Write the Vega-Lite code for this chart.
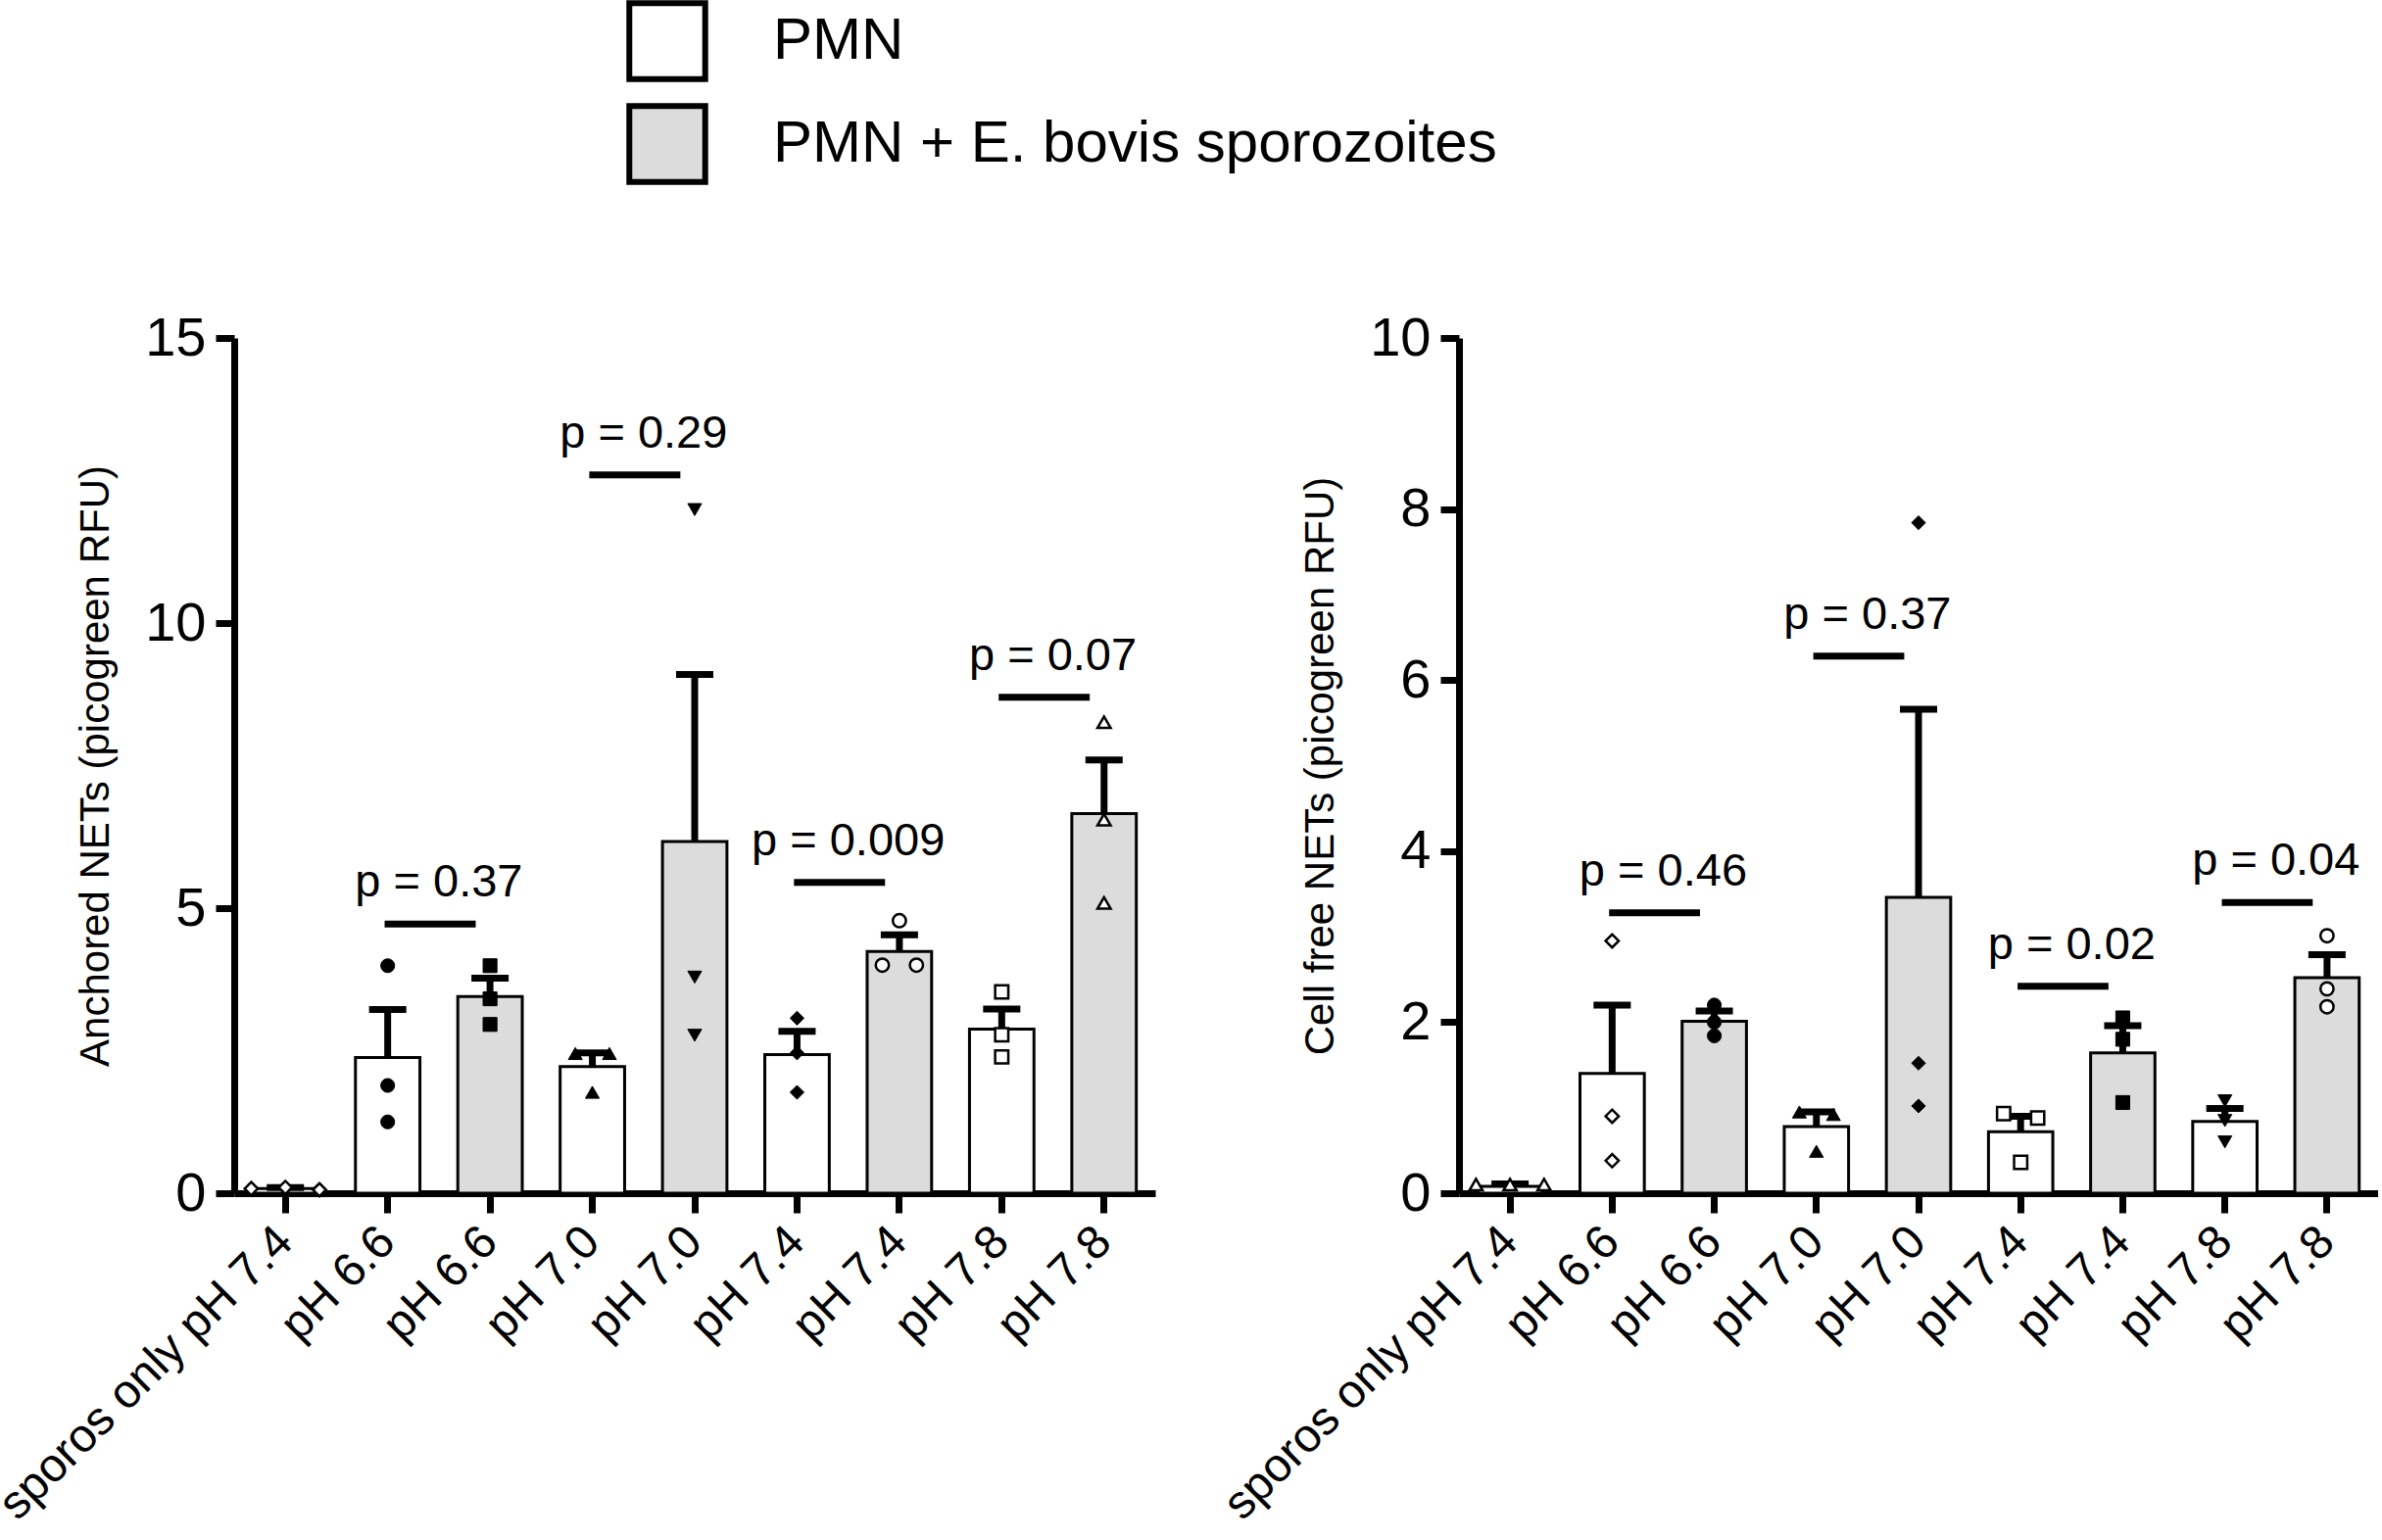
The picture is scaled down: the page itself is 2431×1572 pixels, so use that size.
{
  "$schema": "https://vega.github.io/schema/vega-lite/v6.json",
  "background": "white",
  "padding": {"left": -10, "top": 0, "right": 0, "bottom": 0},
  "spacing": 61,
  "datasets": {
    "bars": [
      {"panel": "A", "cat": 1, "group": "sporozoites only", "mean": 0.08, "hi": 0.1},
      {"panel": "A", "cat": 2, "group": "PMN", "mean": 2.38, "hi": 3.22},
      {"panel": "A", "cat": 3, "group": "PMN + E. bovis sporozoites", "mean": 3.45, "hi": 3.77},
      {"panel": "A", "cat": 4, "group": "PMN", "mean": 2.22, "hi": 2.46},
      {"panel": "A", "cat": 5, "group": "PMN + E. bovis sporozoites", "mean": 6.17, "hi": 9.1},
      {"panel": "A", "cat": 6, "group": "PMN", "mean": 2.43, "hi": 2.84},
      {"panel": "A", "cat": 7, "group": "PMN + E. bovis sporozoites", "mean": 4.24, "hi": 4.53},
      {"panel": "A", "cat": 8, "group": "PMN", "mean": 2.88, "hi": 3.23},
      {"panel": "A", "cat": 9, "group": "PMN + E. bovis sporozoites", "mean": 6.66, "hi": 7.6},
      {"panel": "B", "cat": 1, "group": "sporozoites only", "mean": 0.08, "hi": 0.11},
      {"panel": "B", "cat": 2, "group": "PMN", "mean": 1.4, "hi": 2.2},
      {"panel": "B", "cat": 3, "group": "PMN + E. bovis sporozoites", "mean": 2.01, "hi": 2.13},
      {"panel": "B", "cat": 4, "group": "PMN", "mean": 0.78, "hi": 0.95},
      {"panel": "B", "cat": 5, "group": "PMN + E. bovis sporozoites", "mean": 3.46, "hi": 5.66},
      {"panel": "B", "cat": 6, "group": "PMN", "mean": 0.72, "hi": 0.9},
      {"panel": "B", "cat": 7, "group": "PMN + E. bovis sporozoites", "mean": 1.64, "hi": 1.96},
      {"panel": "B", "cat": 8, "group": "PMN", "mean": 0.84, "hi": 0.99},
      {"panel": "B", "cat": 9, "group": "PMN + E. bovis sporozoites", "mean": 2.52, "hi": 2.79}
    ],
    "pts": [
      {"panel": "A", "cat": 1, "spread": "L", "value": 0.08},
      {"panel": "A", "cat": 1, "spread": "c", "value": 0.1},
      {"panel": "A", "cat": 1, "spread": "R", "value": 0.06},
      {"panel": "A", "cat": 2, "spread": "c", "value": 3.99},
      {"panel": "A", "cat": 2, "spread": "c", "value": 1.89},
      {"panel": "A", "cat": 2, "spread": "c", "value": 1.25},
      {"panel": "A", "cat": 3, "spread": "c", "value": 3.99},
      {"panel": "A", "cat": 3, "spread": "c", "value": 3.41},
      {"panel": "A", "cat": 3, "spread": "c", "value": 2.96},
      {"panel": "A", "cat": 4, "spread": "l", "value": 2.45},
      {"panel": "A", "cat": 4, "spread": "r", "value": 2.45},
      {"panel": "A", "cat": 4, "spread": "c", "value": 1.77},
      {"panel": "A", "cat": 5, "spread": "c", "value": 11.99},
      {"panel": "A", "cat": 5, "spread": "c", "value": 3.79},
      {"panel": "A", "cat": 5, "spread": "c", "value": 2.77},
      {"panel": "A", "cat": 6, "spread": "c", "value": 3.07},
      {"panel": "A", "cat": 6, "spread": "c", "value": 2.46},
      {"panel": "A", "cat": 6, "spread": "c", "value": 1.77},
      {"panel": "A", "cat": 7, "spread": "c", "value": 4.78},
      {"panel": "A", "cat": 7, "spread": "l", "value": 4.0},
      {"panel": "A", "cat": 7, "spread": "r", "value": 4.0},
      {"panel": "A", "cat": 8, "spread": "c", "value": 3.53},
      {"panel": "A", "cat": 8, "spread": "c", "value": 2.78},
      {"panel": "A", "cat": 8, "spread": "c", "value": 2.39},
      {"panel": "A", "cat": 9, "spread": "c", "value": 8.26},
      {"panel": "A", "cat": 9, "spread": "c", "value": 6.55},
      {"panel": "A", "cat": 9, "spread": "c", "value": 5.09},
      {"panel": "B", "cat": 1, "spread": "L", "value": 0.1},
      {"panel": "B", "cat": 1, "spread": "c", "value": 0.1},
      {"panel": "B", "cat": 1, "spread": "R", "value": 0.1},
      {"panel": "B", "cat": 2, "spread": "c", "value": 2.95},
      {"panel": "B", "cat": 2, "spread": "c", "value": 0.9},
      {"panel": "B", "cat": 2, "spread": "c", "value": 0.38},
      {"panel": "B", "cat": 3, "spread": "c", "value": 2.2},
      {"panel": "B", "cat": 3, "spread": "c", "value": 2.0},
      {"panel": "B", "cat": 3, "spread": "c", "value": 1.84},
      {"panel": "B", "cat": 4, "spread": "l", "value": 0.95},
      {"panel": "B", "cat": 4, "spread": "r", "value": 0.92},
      {"panel": "B", "cat": 4, "spread": "c", "value": 0.49},
      {"panel": "B", "cat": 5, "spread": "c", "value": 7.84},
      {"panel": "B", "cat": 5, "spread": "c", "value": 1.52},
      {"panel": "B", "cat": 5, "spread": "c", "value": 1.02},
      {"panel": "B", "cat": 6, "spread": "l", "value": 0.93},
      {"panel": "B", "cat": 6, "spread": "r", "value": 0.88},
      {"panel": "B", "cat": 6, "spread": "c", "value": 0.36},
      {"panel": "B", "cat": 7, "spread": "c", "value": 2.05},
      {"panel": "B", "cat": 7, "spread": "c", "value": 1.8},
      {"panel": "B", "cat": 7, "spread": "c", "value": 1.06},
      {"panel": "B", "cat": 8, "spread": "c", "value": 1.08},
      {"panel": "B", "cat": 8, "spread": "c", "value": 0.85},
      {"panel": "B", "cat": 8, "spread": "c", "value": 0.6},
      {"panel": "B", "cat": 9, "spread": "c", "value": 3.01},
      {"panel": "B", "cat": 9, "spread": "c", "value": 2.39},
      {"panel": "B", "cat": 9, "spread": "c", "value": 2.18}
    ],
    "pvals": [
      {"panel": "A", "from": 2, "to": 3, "y": 4.72, "label": "p = 0.37"},
      {"panel": "A", "from": 4, "to": 5, "y": 12.6, "label": "p = 0.29"},
      {"panel": "A", "from": 6, "to": 7, "y": 5.45, "label": "p = 0.009"},
      {"panel": "A", "from": 8, "to": 9, "y": 8.7, "label": "p = 0.07"},
      {"panel": "B", "from": 2, "to": 3, "y": 3.28, "label": "p = 0.46"},
      {"panel": "B", "from": 4, "to": 5, "y": 6.28, "label": "p = 0.37"},
      {"panel": "B", "from": 6, "to": 7, "y": 2.42, "label": "p = 0.02"},
      {"panel": "B", "from": 8, "to": 9, "y": 3.4, "label": "p = 0.04"}
    ]
  },
  "config": {
    "font": "Liberation Sans",
    "view": {"stroke": null},
    "axis": {
      "domainColor": "black", "domainWidth": 7, "tickColor": "black", "tickWidth": 7,
      "labelColor": "black", "titleColor": "black", "grid": false, "labelLimit": 0,
      "labelFont": "Liberation Sans", "titleFont": "Liberation Sans", "titleFontWeight": "normal"
    },
    "axisY": {"labelFontSize": 56, "labelPadding": 10, "tickSize": 19, "titleFontSize": 42, "titlePadding": 28, "format": "d"},
    "axisX": {"labelFontSize": 48, "labelAngle": -45, "labelAlign": "right", "labelBaseline": "middle", "tickSize": 20, "labelPadding": 22}
  },
  "resolve": {"scale": {"shape": "independent"}},
  "hconcat": [
    {
      "width": 940,
      "height": 873,
      "resolve": {"scale": {"xOffset": "independent"}},
      "encoding": {
        "x": {
          "field": "cat", "type": "ordinal", "title": null,
          "scale": {"type": "band", "paddingInner": 0, "paddingOuter": 0},
          "axis": {"labelExpr": "['sporos only pH 7.4','pH 6.6','pH 6.6','pH 7.0','pH 7.0','pH 7.4','pH 7.4','pH 7.8','pH 7.8'][datum.value - 1]"}
        }
      },
      "layer": [
        {
          "data": {"name": "bars"},
          "transform": [{"filter": "datum.panel == 'A'"}],
          "mark": {"type": "bar", "stroke": "black", "strokeWidth": 3, "width": {"band": 0.63}},
          "encoding": {
            "y": {"field": "mean", "type": "quantitative", "title": "Anchored NETs (picogreen RFU)",
                  "scale": {"domain": [0, 15], "nice": false}, "axis": {"values": [0, 5, 10, 15]}},
            "fill": {
              "field": "group", "type": "nominal",
              "scale": {"domain": ["PMN", "PMN + E. bovis sporozoites", "sporozoites only"], "range": ["white", "#dcdcdc", "white"]},
              "legend": {
                "title": null, "orient": "none", "legendX": 400, "legendY": -345, "direction": "vertical",
                "values": ["PMN", "PMN + E. bovis sporozoites"],
                "symbolType": "square", "symbolSize": 6000, "symbolStrokeColor": "black", "symbolStrokeWidth": 6,
                "labelFont": "Liberation Sans", "labelFontSize": 60, "labelColor": "black", "labelOffset": 66, "labelLimit": 0,
                "rowPadding": 3, "padding": 0
              }
            }
          }
        },
        {
          "data": {"name": "bars"},
          "transform": [{"filter": "datum.panel == 'A'"}],
          "mark": {"type": "rule", "color": "black", "strokeWidth": 7},
          "encoding": {
            "y": {"field": "mean", "type": "quantitative", "title": "Anchored NETs (picogreen RFU)"},
            "y2": {"field": "hi"}
          }
        },
        {
          "data": {"name": "bars"},
          "transform": [{"filter": "datum.panel == 'A'"}],
          "mark": {"type": "tick", "color": "black", "opacity": 1, "thickness": 7, "size": 38},
          "encoding": {
            "y": {"field": "hi", "type": "quantitative", "title": "Anchored NETs (picogreen RFU)"}
          }
        },
        {
          "data": {"name": "pts"},
          "transform": [{"filter": "datum.panel == 'A' && indexof([2, 3, 4, 5, 6], datum.cat) >= 0"}],
          "mark": {"type": "point", "filled": true, "fill": "black", "stroke": "black", "strokeWidth": 1, "size": 200, "opacity": 1},
          "encoding": {
            "y": {"field": "value", "type": "quantitative", "title": "Anchored NETs (picogreen RFU)"},
            "xOffset": {"field": "spread", "type": "nominal", "scale": {"domain": ["L", "l", "c", "r", "R"], "paddingInner": 0, "paddingOuter": 1.5}},
            "shape": {"field": "cat", "type": "nominal", "legend": null,
                      "scale": {"domain": [1, 2, 3, 4, 5, 6, 7, 8, 9], "range": ["diamond", "circle", "square", "triangle-up", "triangle-down", "diamond", "circle", "square", "triangle-up"]}}
          }
        },
        {
          "data": {"name": "pts"},
          "transform": [{"filter": "datum.panel == 'A' && indexof([1, 7, 8, 9], datum.cat) >= 0"}],
          "mark": {"type": "point", "filled": true, "fill": "white", "stroke": "black", "strokeWidth": 2.5, "size": 180, "opacity": 1},
          "encoding": {
            "y": {"field": "value", "type": "quantitative", "title": "Anchored NETs (picogreen RFU)"},
            "xOffset": {"field": "spread", "type": "nominal", "scale": {"domain": ["L", "l", "c", "r", "R"], "paddingInner": 0, "paddingOuter": 1.5}},
            "shape": {"field": "cat", "type": "nominal", "legend": null,
                      "scale": {"domain": [1, 2, 3, 4, 5, 6, 7, 8, 9], "range": ["diamond", "circle", "square", "triangle-up", "triangle-down", "diamond", "circle", "square", "triangle-up"]}}
          }
        },
        {
          "data": {"name": "pvals"},
          "transform": [{"filter": "datum.panel == 'A'"}],
          "mark": {"type": "rule", "color": "black", "strokeWidth": 7},
          "encoding": {
            "x": {"field": "from", "type": "ordinal", "title": null, "bandPosition": 0.47},
            "x2": {"field": "to", "bandPosition": 0.36},
            "y": {"field": "y", "type": "quantitative", "title": "Anchored NETs (picogreen RFU)"}
          }
        },
        {
          "data": {"name": "pvals"},
          "transform": [{"filter": "datum.panel == 'A'"}],
          "mark": {"type": "text", "color": "black", "font": "Liberation Sans", "fontSize": 47, "dy": -28, "baseline": "alphabetic", "align": "center"},
          "encoding": {
            "x": {"field": "from", "type": "ordinal", "title": null, "bandPosition": 1},
            "y": {"field": "y", "type": "quantitative", "title": "Anchored NETs (picogreen RFU)"},
            "text": {"field": "label"}
          }
        }
      ]
    },
    {
      "width": 938,
      "height": 873,
      "resolve": {"scale": {"xOffset": "independent"}},
      "encoding": {
        "x": {
          "field": "cat", "type": "ordinal", "title": null,
          "scale": {"type": "band", "paddingInner": 0, "paddingOuter": 0},
          "axis": {"labelExpr": "['sporos only pH 7.4','pH 6.6','pH 6.6','pH 7.0','pH 7.0','pH 7.4','pH 7.4','pH 7.8','pH 7.8'][datum.value - 1]"}
        }
      },
      "layer": [
        {
          "data": {"name": "bars"},
          "transform": [{"filter": "datum.panel == 'B'"}],
          "mark": {"type": "bar", "stroke": "black", "strokeWidth": 3, "width": {"band": 0.63}},
          "encoding": {
            "y": {"field": "mean", "type": "quantitative", "title": "Cell free NETs (picogreen RFU)",
                  "scale": {"domain": [0, 10], "nice": false}, "axis": {"values": [0, 2, 4, 6, 8, 10]}},
            "fill": {
              "field": "group", "type": "nominal",
              "scale": {"domain": ["PMN", "PMN + E. bovis sporozoites", "sporozoites only"], "range": ["white", "#dcdcdc", "white"]},
              "legend": {
                "title": null, "orient": "none", "legendX": 400, "legendY": -345, "direction": "vertical",
                "values": ["PMN", "PMN + E. bovis sporozoites"],
                "symbolType": "square", "symbolSize": 6000, "symbolStrokeColor": "black", "symbolStrokeWidth": 6,
                "labelFont": "Liberation Sans", "labelFontSize": 60, "labelColor": "black", "labelOffset": 66, "labelLimit": 0,
                "rowPadding": 3, "padding": 0
              }
            }
          }
        },
        {
          "data": {"name": "bars"},
          "transform": [{"filter": "datum.panel == 'B'"}],
          "mark": {"type": "rule", "color": "black", "strokeWidth": 7},
          "encoding": {
            "y": {"field": "mean", "type": "quantitative", "title": "Cell free NETs (picogreen RFU)"},
            "y2": {"field": "hi"}
          }
        },
        {
          "data": {"name": "bars"},
          "transform": [{"filter": "datum.panel == 'B'"}],
          "mark": {"type": "tick", "color": "black", "opacity": 1, "thickness": 7, "size": 38},
          "encoding": {
            "y": {"field": "hi", "type": "quantitative", "title": "Cell free NETs (picogreen RFU)"}
          }
        },
        {
          "data": {"name": "pts"},
          "transform": [{"filter": "datum.panel == 'B' && indexof([3, 4, 5, 7, 8], datum.cat) >= 0"}],
          "mark": {"type": "point", "filled": true, "fill": "black", "stroke": "black", "strokeWidth": 1, "size": 200, "opacity": 1},
          "encoding": {
            "y": {"field": "value", "type": "quantitative", "title": "Cell free NETs (picogreen RFU)"},
            "xOffset": {"field": "spread", "type": "nominal", "scale": {"domain": ["L", "l", "c", "r", "R"], "paddingInner": 0, "paddingOuter": 1.5}},
            "shape": {"field": "cat", "type": "nominal", "legend": null,
                      "scale": {"domain": [1, 2, 3, 4, 5, 6, 7, 8, 9], "range": ["triangle-up", "diamond", "circle", "triangle-up", "diamond", "square", "square", "triangle-down", "circle"]}}
          }
        },
        {
          "data": {"name": "pts"},
          "transform": [{"filter": "datum.panel == 'B' && indexof([1, 2, 6, 9], datum.cat) >= 0"}],
          "mark": {"type": "point", "filled": true, "fill": "white", "stroke": "black", "strokeWidth": 2.5, "size": 180, "opacity": 1},
          "encoding": {
            "y": {"field": "value", "type": "quantitative", "title": "Cell free NETs (picogreen RFU)"},
            "xOffset": {"field": "spread", "type": "nominal", "scale": {"domain": ["L", "l", "c", "r", "R"], "paddingInner": 0, "paddingOuter": 1.5}},
            "shape": {"field": "cat", "type": "nominal", "legend": null,
                      "scale": {"domain": [1, 2, 3, 4, 5, 6, 7, 8, 9], "range": ["triangle-up", "diamond", "circle", "triangle-up", "diamond", "square", "square", "triangle-down", "circle"]}}
          }
        },
        {
          "data": {"name": "pvals"},
          "transform": [{"filter": "datum.panel == 'B'"}],
          "mark": {"type": "rule", "color": "black", "strokeWidth": 7},
          "encoding": {
            "x": {"field": "from", "type": "ordinal", "title": null, "bandPosition": 0.47},
            "x2": {"field": "to", "bandPosition": 0.36},
            "y": {"field": "y", "type": "quantitative", "title": "Cell free NETs (picogreen RFU)"}
          }
        },
        {
          "data": {"name": "pvals"},
          "transform": [{"filter": "datum.panel == 'B'"}],
          "mark": {"type": "text", "color": "black", "font": "Liberation Sans", "fontSize": 47, "dy": -28, "baseline": "alphabetic", "align": "center"},
          "encoding": {
            "x": {"field": "from", "type": "ordinal", "title": null, "bandPosition": 1},
            "y": {"field": "y", "type": "quantitative", "title": "Cell free NETs (picogreen RFU)"},
            "text": {"field": "label"}
          }
        }
      ]
    }
  ]
}
